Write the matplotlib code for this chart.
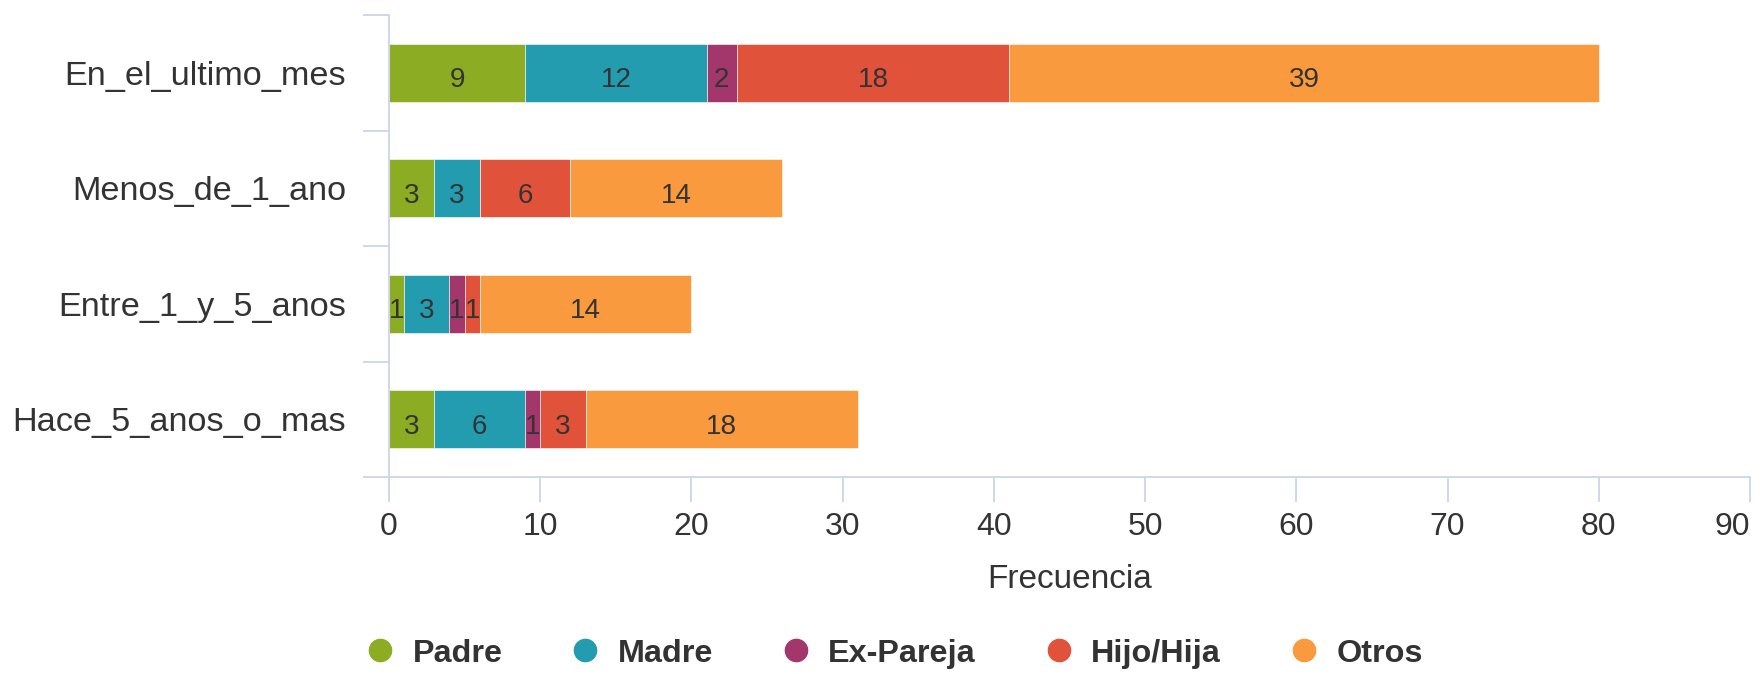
import numpy as np
import matplotlib.pyplot as plt

plt.rcParams['font.family'] = ['Liberation Sans', 'DejaVu Sans']

categories = ['En_el_ultimo_mes', 'Menos_de_1_ano', 'Entre_1_y_5_anos', 'Hace_5_anos_o_mas']
series_names = ['Padre', 'Madre', 'Ex-Pareja', 'Hijo/Hija', 'Otros']
padre = [9, 3, 1, 3]
madre = [12, 3, 3, 6]
ex_pareja = [2, 0, 1, 1]
hijo_hija = [18, 6, 1, 3]
otros = [39, 14, 14, 18]
colors = ['#8bac23', '#229cae', '#a3376b', '#e0523a', '#f89a3d']

series = [padre, madre, ex_pareja, hijo_hija, otros]
axis_col = '#ccd6eb'

fig = plt.figure(figsize=(17.62, 6.74), dpi=100)
ax = fig.add_axes([389 / 1762, 197 / 674, (1750 - 389) / 1762, (477 - 15) / 674])

y = np.arange(len(categories))
left = np.zeros(len(categories))
for name, vals, col in zip(series_names, series, colors):
    vals = np.array(vals, dtype=float)
    bars = ax.barh(y, vals, left=left, height=0.5, color=col, label=name,
                   edgecolor='white', linewidth=0.4)
    for b, v in zip(bars, vals):
        if v > 0:
            ax.annotate(f'{int(v)}', (b.get_x() + b.get_width() / 2, b.get_y() + b.get_height() / 2),
                        xytext=(0, -5.5), textcoords='offset points',
                        ha='center', va='center', fontsize=20, color='#333333')
    left += vals

ax.set_ylim(len(categories) - 0.5, -0.5)
ax.set_xlim(0, 90)
ax.set_xticks(range(0, 91, 10))
ax.set_yticks(y)
ax.set_yticklabels(categories)
ax.set_yticks(np.arange(-0.5, len(categories)), minor=True)

ax.tick_params(axis='y', which='major', length=0, pad=31, labelsize=24.7, labelcolor='#333333')
ax.tick_params(axis='y', which='minor', length=18.7, width=1.3, color=axis_col)
ax.tick_params(axis='x', length=18, width=1.3, color=axis_col, pad=7,
               labelsize=23, labelcolor='#333333')
ax.get_xticklabels()[-1].set_horizontalalignment('right')

for s in ['top', 'right']:
    ax.spines[s].set_visible(False)
for s in ['left', 'bottom']:
    ax.spines[s].set_color(axis_col)
    ax.spines[s].set_linewidth(1.3)

ax.set_xlabel('Frecuencia', fontsize=24, color='#333333', labelpad=16)

fig.legend(loc='center', bbox_to_anchor=(0.507, 0.030), ncol=5, frameon=False,
           handles=[plt.Line2D([], [], marker='o', linestyle='', markersize=16,
                               color=c, label=n) for n, c in zip(series_names, colors)],
           prop={'weight': 'bold', 'size': 23.3}, columnspacing=2.06, handlelength=1.0,
           handletextpad=0.5, labelcolor='#333333')

fig.savefig('out.png', dpi=100)
